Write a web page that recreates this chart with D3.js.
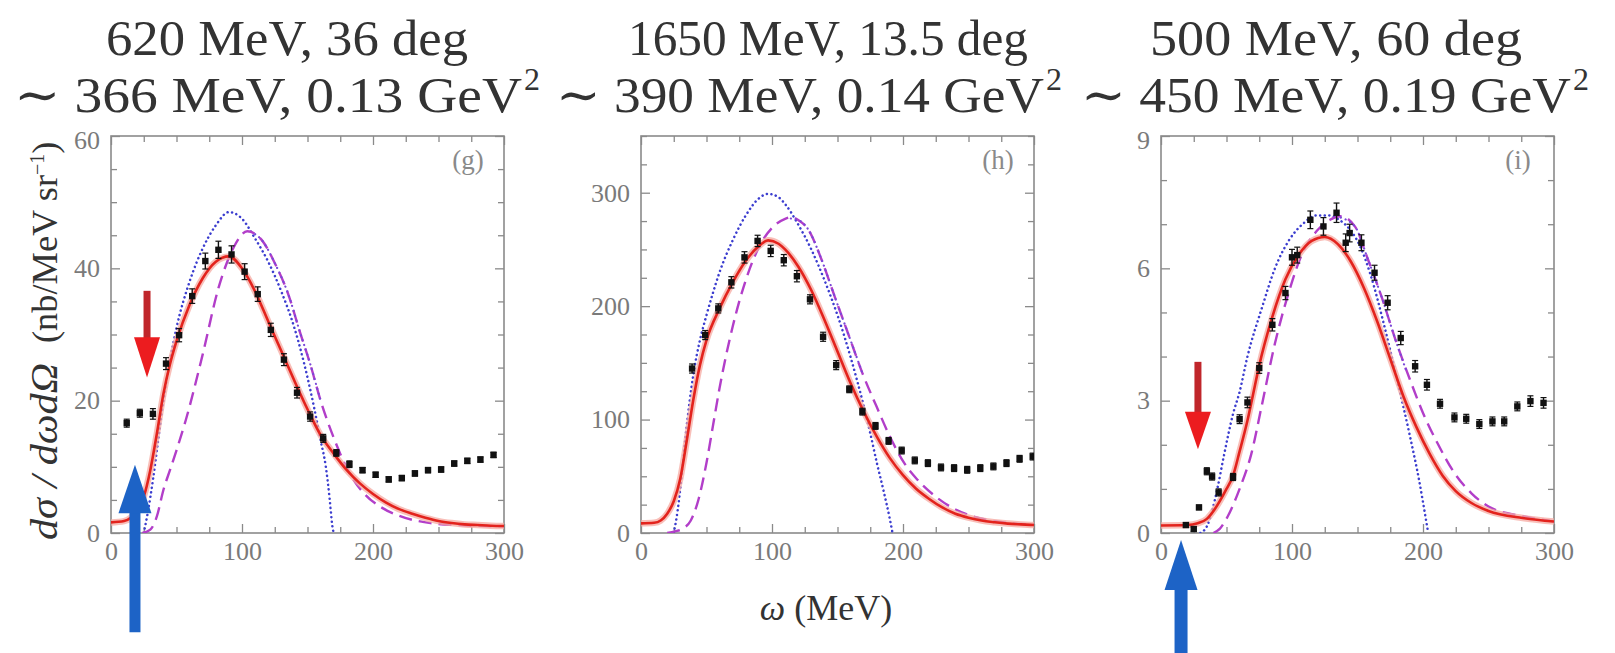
<!DOCTYPE html>
<html><head><meta charset="utf-8">
<script src="https://cdn.jsdelivr.net/npm/d3@7"></script>
<style>body{margin:0;background:#fff;} svg{display:block;font-family:"Liberation Serif","DejaVu Serif",serif;}</style>
</head><body>
<svg id="chart" width="1615" height="653"></svg>
<script>
// ================= DATA =================
const xMajorTicks = [0, 100, 200, 300];
const xMinorStep = 25;
const titleLine1 = ["620 MeV, 36 deg", "1650 MeV, 13.5 deg", "500 MeV, 60 deg"];
const titleLine2 = ["\u223C 366 MeV, 0.13 GeV", "\u223C 390 MeV, 0.14 GeV", "\u223C 450 MeV, 0.19 GeV"];
const panelTags = ["(g)", "(h)", "(i)"];
const yMaxes = [60, 350, 9];
const yMajorTicks = [[0, 20, 40, 60], [0, 100, 200, 300], [0, 3, 6, 9]];
const yMinorSteps = [5, 25, 1];

// panel (g)
const gPtsX = [12,22,32,42,52,62,72,82,92,102,112,122,132,142,152,162,172,182,192,202,212,222,232,242,252,262,272,282,292];
const gPtsY = [16.6,18.1,18.0,25.6,29.9,35.8,41.1,42.8,42.1,39.5,36.1,30.7,26.2,21.2,17.6,14.3,12.1,10.4,9.5,8.8,8.1,8.3,9.0,9.5,9.6,10.5,10.9,11.1,11.8];
const gPtsErr = [0.6,0.6,0.8,0.9,1.0,1.1,1.2,1.3,1.3,1.2,1.1,1.0,0.9,0.8,0.7,0.6,0.5,0.5,0.4,0.4,0.4,0.4,0.4,0.4,0.4,0.4,0.4,0.4,0.4];
const gRedX = [0,10,15,20,25,30,35,40,45,50,60,70,80,90,100,110,120,130,140,150,160,170,180,190,200,210,220,230,240,250,260,270,280,290,300];
const gRedY = [1.6,1.8,2.3,3.5,5.5,9.5,15,21,25.5,29,34.5,38.5,41,41.8,40,36.5,32,27.5,23,18.7,14.8,12,9.5,7.5,5.9,4.6,3.6,2.9,2.3,1.8,1.5,1.3,1.2,1.1,1.05];
const gBlueX = [25,28,32,36,40,45,50,60,70,80,90,100,110,120,130,140,150,155,160,164,167,169,170];
const gBlueY = [0,3,8,14,20,26,31,38,43,46.5,48.5,47.5,44.5,41,36.5,31,23.5,19,14,10,5,1,0];
const gMagX = [24,30,35,40,45,50,57,70,82,94,104,115,125,136,144,152,160,170,180,194,207,220,244,270,300];
const gMagY = [0,0.5,2.5,6.5,9.5,12.5,17,27,37,43.3,45.6,44.3,40.8,35.7,30.5,25.6,20,14.4,9.8,5.8,3.8,2.6,1.5,1.15,1.0];
const gDotX = [108,115,125,136,144,152,160];
const gDotY = [45.4,44.3,40.8,35.7,30.5,25.6,20];

// panel (h)
const hPtsX = [39,49,59,69,79,89,99,109,119,129,139,149,159,169,179,189,199,209,219,229,239,249,259,269,279,289,299];
const hPtsY = [145,174.5,198,221,243,257.5,248.7,240.5,226.4,206,173,148,126.7,107,94.4,81.2,72.7,64,61.6,57.8,57.2,55.7,57.2,58.7,61.6,65.4,67.4];
const hPtsErr = [4,4,4,5,5,5,5,5,5,4,4,4,3,3,3,3,3,3,3,3,3,3,3,3,3,3,3];
const hRedX = [0,10,15,20,25,30,35,40,45,50,60,70,80,90,97,105,110,120,130,140,150,160,170,180,190,200,210,220,230,240,250,260,270,280,290,300];
const hRedY = [8.5,9,11,17,28,48,82,118,148,170,198,221,240,253,258,255,250,235,214,188,160,132,107,85,66,51,39,30,22.5,17,13.5,11,9.5,8.3,7.6,7];
const hBlueX = [25,28,31,34,37,40,45,50,55,60,70,80,90,97,105,110,120,130,140,150,160,170,175,180,185,190,192];
const hBlueY = [0,20,50,85,115,140,170,192,212,230,258,280,295,299,296,290,272,250,223,192,155,112,88,62,38,12,0];
const hMagX = [20,26,32,38,44,50,55,60,70,80,90,100,110,115,120,128,138,148,159,169,180,190,201,211,225,238,250,264,280,300];
const hMagY = [0,1.5,4,11,30,62,95,128,182,223,252,269,277,278.6,276,267,240.5,208,173,141,111,85,61.6,47,32,22,16,11.7,9,7.3];
const hDotX = [112,120,128,138,148,159,169];
const hDotY = [277.5,276,267,240.5,208,173,141];

// panel (i)
const iPtsX = [19,25,29,35,39,44,55,60,66,75,85,95,100,104,114,124,134,141,144,153,163,173,183,194,203,213,224,233,243,253,262,272,282,292];
const iPtsY = [0.18,0.09,0.58,1.4,1.28,0.92,1.27,2.58,2.96,3.74,4.72,5.44,6.25,6.3,7.1,6.95,7.26,6.58,6.8,6.58,5.9,5.22,4.42,3.78,3.36,2.93,2.62,2.59,2.47,2.53,2.53,2.87,2.99,2.95];
const iPtsErr = [0.05,0.05,0.05,0.08,0.08,0.08,0.08,0.1,0.12,0.12,0.14,0.15,0.18,0.18,0.2,0.2,0.22,0.2,0.2,0.18,0.17,0.16,0.15,0.13,0.12,0.1,0.1,0.1,0.1,0.1,0.1,0.1,0.12,0.12];
const iRedX = [0,20,28,35,41,50,55,60,66,70,75,85,95,105,115,125,135,145,155,165,175,185,195,205,215,225,237,250,276,300];
const iRedY = [0.17,0.18,0.22,0.32,0.54,1.0,1.3,1.85,2.55,3.1,3.8,4.9,5.75,6.3,6.62,6.71,6.55,6.15,5.55,4.8,3.95,3.1,2.4,1.8,1.3,0.95,0.68,0.5,0.34,0.26];
const iBlueX = [30,35,39,43,48,55,60,66,77,87,98,108,119,128,136,145,152,160,170,180,190,197,202,204];
const iBlueY = [0,0.15,0.5,1.0,1.75,2.7,3.2,4.0,5.1,6.0,6.65,7.0,7.2,7.2,7.1,6.85,6.5,5.85,4.75,3.5,2.2,1.2,0.35,0];
const iMagX = [40,45,51,60,69,77,87,98,108,119,129,137,148,158,169,179,190,200,211,224,237,250,276,300];
const iMagY = [0,0.1,0.38,1.0,1.8,2.9,4.3,5.5,6.35,6.85,7.1,7.18,6.95,6.2,5.3,4.38,3.48,2.72,2.04,1.36,0.9,0.6,0.38,0.26];
const iDotX = [135,148,158,169,179,187];
const iDotY = [7.17,6.95,6.2,5.3,4.38,3.7];

// annotation arrows (data units of their panel)
const redArrows = [{p:0, x:27.5, top:36.6, base:29.6, tip:23.5}, {p:2, x:28.2, top:3.88, base:2.75, tip:1.9}];
const blueArrows = [{p:0, x:18.3, bottom:-15, base:3.0, tip:10.3, shaft:11}, {p:2, x:15.3, bottom:-3.0, base:-1.29, tip:-0.16, shaft:13}];

// ================= LAYOUT =================
const W = 1615, H = 653;
const panelLeft = [111, 641, 1161], panelW = 393, panelTop = 136, panelBottom = 533;
const titleL1 = [{x:106, w:362}, {x:628, w:400}, {x:1150, w:372}];
const titleL2 = [{x:14, w:508}, {x:556, w:488}, {x:1081, w:490}];

const series = [
  {pts:[gPtsX,gPtsY,gPtsErr], red:[gRedX,gRedY], blue:[gBlueX,gBlueY], mag:[gMagX,gMagY], dot:[gDotX,gDotY]},
  {pts:[hPtsX,hPtsY,hPtsErr], red:[hRedX,hRedY], blue:[hBlueX,hBlueY], mag:[hMagX,hMagY], dot:[hDotX,hDotY]},
  {pts:[iPtsX,iPtsY,iPtsErr], red:[iRedX,iRedY], blue:[iBlueX,iBlueY], mag:[iMagX,iMagY], dot:[iDotX,iDotY]}
];

const svg = d3.select("#chart");
const defs = svg.append("defs");
defs.append("clipPath").attr("id","lowerClip").append("rect").attr("x",0).attr("y",132).attr("width",W).attr("height",H-132);

const zip = (xs, ys) => xs.map((x,i)=>[x, ys[i]]);
const scales = [];

// titles
titleLine1.forEach((t,i)=>{
  svg.append("text").attr("x",titleL1[i].x).attr("y",55).attr("font-size",50).attr("fill","#333")
    .attr("textLength",titleL1[i].w).attr("lengthAdjust","spacingAndGlyphs").text(t);
});
titleLine2.forEach((t,i)=>{
  svg.append("text").attr("x",titleL2[i].x).attr("y",112).attr("font-size",50).attr("fill","#333")
    .attr("textLength",titleL2[i].w).attr("lengthAdjust","spacingAndGlyphs").text(t);
  svg.append("text").attr("x",titleL2[i].x+titleL2[i].w+2).attr("y",90).attr("font-size",32).attr("fill","#333").text("2");
});

const root = svg.append("g").attr("clip-path","url(#lowerClip)");

series.forEach((s,pi)=>{
  const x = d3.scaleLinear().domain([0,300]).range([panelLeft[pi], panelLeft[pi]+panelW]);
  const y = d3.scaleLinear().domain([0,yMaxes[pi]]).range([panelBottom, panelTop]);
  scales.push({x,y});
  const g = root.append("g");
  const cid = "pclip"+pi;
  defs.append("clipPath").attr("id",cid).append("rect")
    .attr("x",x.range()[0]).attr("y",panelTop).attr("width",panelW).attr("height",panelBottom-panelTop);

  const xMinor = d3.range(0,301,xMinorStep).filter(v=>!xMajorTicks.includes(v));
  const yMinor = d3.range(0,yMaxes[pi]+1e-9,yMinorSteps[pi]).filter(v=>!yMajorTicks[pi].includes(v));

  const styleAxis = sel => {
    sel.select(".domain").remove();
    sel.selectAll("line").attr("stroke","#8a8a8a").attr("stroke-width",1.3);
    sel.selectAll("text").attr("fill","#7a7a7a").attr("font-size",26).attr("font-family","Liberation Serif, serif");
  };
  g.append("g").attr("transform",`translate(0,${panelBottom})`)
    .call(d3.axisBottom(x).tickValues(xMajorTicks).tickSize(-9).tickPadding(9).tickFormat(d3.format("d"))).call(styleAxis);
  g.append("g").attr("transform",`translate(0,${panelBottom})`)
    .call(d3.axisBottom(x).tickValues(xMinor).tickSize(-6).tickFormat("")).call(styleAxis);
  g.append("g").attr("transform",`translate(0,${panelTop})`)
    .call(d3.axisTop(x).tickValues(xMajorTicks).tickSize(-9).tickFormat("")).call(styleAxis);
  g.append("g").attr("transform",`translate(0,${panelTop})`)
    .call(d3.axisTop(x).tickValues(xMinor).tickSize(-6).tickFormat("")).call(styleAxis);
  const leftAx = g.append("g").attr("transform",`translate(${x.range()[0]},0)`)
    .call(d3.axisLeft(y).tickValues(yMajorTicks[pi]).tickSize(-9).tickPadding(11).tickFormat(d3.format("d"))).call(styleAxis);
  // topmost label sits under the title band (half hidden, as in the original)
  leftAx.selectAll(".tick text").filter(d=>d===yMaxes[pi]).attr("y",4);
  g.append("g").attr("transform",`translate(${x.range()[0]},0)`)
    .call(d3.axisLeft(y).tickValues(yMinor).tickSize(-6).tickFormat("")).call(styleAxis);
  g.append("g").attr("transform",`translate(${x.range()[1]},0)`)
    .call(d3.axisRight(y).tickValues(yMajorTicks[pi]).tickSize(-9).tickFormat("")).call(styleAxis);
  g.append("g").attr("transform",`translate(${x.range()[1]},0)`)
    .call(d3.axisRight(y).tickValues(yMinor).tickSize(-6).tickFormat("")).call(styleAxis);

  g.append("rect").attr("x",x.range()[0]).attr("y",panelTop).attr("width",panelW).attr("height",panelBottom-panelTop)
    .attr("fill","none").attr("stroke","#8a8a8a").attr("stroke-width",1.6);

  g.append("text").attr("x",x.range()[1]-36).attr("y",169).attr("text-anchor","middle")
    .attr("font-size",27).attr("fill","#8a8a8a").text(panelTags[pi]);

  const line = d3.line().x(d=>x(d[0])).y(d=>y(d[1])).curve(d3.curveMonotoneX);
  const cg = g.append("g").attr("clip-path",`url(#${cid})`);

  cg.append("path").attr("d",line(zip(...s.blue))).attr("fill","none").attr("stroke","#3b3dcf")
    .attr("stroke-width",2.5).attr("stroke-dasharray","0.1,4.5").attr("stroke-linecap","round");
  cg.append("path").attr("d",line(zip(...s.mag))).attr("fill","none").attr("stroke","#b23ec9")
    .attr("stroke-width",2.4).attr("stroke-dasharray","13,7");
  cg.append("path").attr("d",line(zip(...s.dot))).attr("fill","none").attr("stroke","#7a48d8")
    .attr("stroke-width",2.2).attr("stroke-dasharray","0.1,5").attr("stroke-dashoffset",2).attr("stroke-linecap","round");
  cg.append("path").attr("d",line(zip(...s.red))).attr("fill","none").attr("stroke","#f6aaa2")
    .attr("stroke-width",6.5).attr("stroke-opacity",0.75);
  cg.append("path").attr("d",line(zip(...s.red))).attr("fill","none").attr("stroke","#e3231d")
    .attr("stroke-width",2.6);

  const [px,py,pe] = s.pts;
  const pdat = px.map((v,i)=>({x:v,y:py[i],e:pe[i]}));
  const pg = cg.append("g");
  pg.selectAll("line.eb").data(pdat).join("line").attr("class","eb")
    .attr("x1",d=>x(d.x)).attr("x2",d=>x(d.x)).attr("y1",d=>y(d.y-d.e)).attr("y2",d=>y(d.y+d.e))
    .attr("stroke","#111").attr("stroke-width",1.4);
  pg.selectAll("line.c1").data(pdat).join("line").attr("class","c1")
    .attr("x1",d=>x(d.x)-3).attr("x2",d=>x(d.x)+3).attr("y1",d=>y(d.y+d.e)).attr("y2",d=>y(d.y+d.e))
    .attr("stroke","#111").attr("stroke-width",1.2);
  pg.selectAll("line.c2").data(pdat).join("line").attr("class","c2")
    .attr("x1",d=>x(d.x)-3).attr("x2",d=>x(d.x)+3).attr("y1",d=>y(d.y-d.e)).attr("y2",d=>y(d.y-d.e))
    .attr("stroke","#111").attr("stroke-width",1.2);
  pg.selectAll("rect").data(pdat).join("rect")
    .attr("x",d=>x(d.x)-3.2).attr("y",d=>y(d.y)-3.2).attr("width",6.4).attr("height",6.4).attr("fill","#111");
});

// arrows
redArrows.forEach(a=>{
  const {x,y} = scales[a.p];
  const cx = x(a.x);
  root.append("rect").attr("x",cx-3.5).attr("y",y(a.top)).attr("width",7).attr("height",y(a.base)-y(a.top)+1)
    .attr("fill","#c0262b");
  root.append("path").attr("d",d3.line()([[cx-13,y(a.base)],[cx+13,y(a.base)],[cx,y(a.tip)]])+"Z").attr("fill","#ec1c1f");
});
blueArrows.forEach(a=>{
  const {x,y} = scales[a.p];
  const cx = x(a.x);
  root.append("rect").attr("x",cx-a.shaft/2).attr("y",y(a.base)-1).attr("width",a.shaft).attr("height",y(a.bottom)-y(a.base)+1)
    .attr("fill","#1d63c6");
  root.append("path").attr("d",d3.line()([[cx-16.5,y(a.base)],[cx+16.5,y(a.base)],[cx,y(a.tip)]])+"Z").attr("fill","#1d63c6");
});

// y-axis label
svg.append("text").attr("transform","translate(57,540) rotate(-90)").attr("font-size",38).attr("fill","#333")
  .attr("font-style","italic").attr("textLength",177).attr("lengthAdjust","spacingAndGlyphs").text("d\u03C3 / d\u03C9d\u03A9");
const yl2 = svg.append("text").attr("transform","translate(57,343) rotate(-90)").attr("font-size",36).attr("fill","#333");
yl2.append("tspan").attr("textLength",168).attr("lengthAdjust","spacingAndGlyphs").text("(nb/MeV sr");
yl2.append("tspan").attr("dy",-13).attr("font-size",20).text("\u22121");
yl2.append("tspan").attr("dy",13).text(")");

// x-axis label
const xl = svg.append("text").attr("x",826).attr("y",620).attr("text-anchor","middle").attr("font-size",36).attr("fill","#333");
xl.append("tspan").attr("font-style","italic").text("\u03C9");
xl.append("tspan").text(" (MeV)");
</script>
</body></html>
